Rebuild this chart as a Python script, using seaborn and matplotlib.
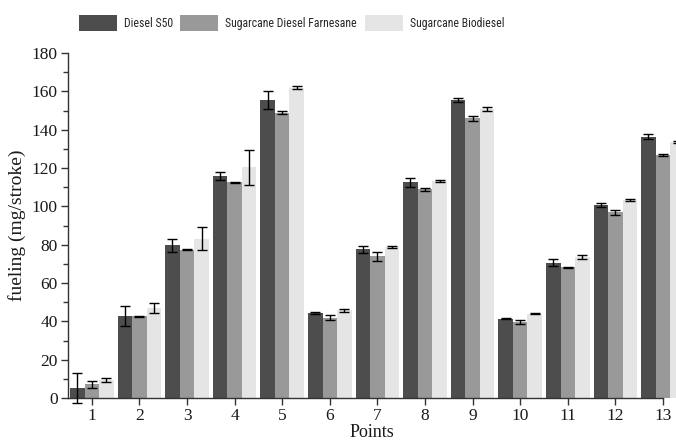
import matplotlib
matplotlib.use("Agg")
import matplotlib.pyplot as plt
from matplotlib import font_manager
from matplotlib.font_manager import FontProperties
from matplotlib.textpath import TextPath
from matplotlib.patches import Patch
from matplotlib.ticker import MultipleLocator
import numpy as np
import pandas as pd
import seaborn as sns

# Operating points and fuel series
points = [str(i) for i in range(1, 14)]
fuels = ["Diesel S50", "Sugarcane Diesel Farnesane", "Sugarcane Biodiesel"]

diesel = [5.2, 42.8, 79.7, 115.8, 155.5, 44.3, 77.5, 112.5, 155.4, 41.4, 70.6, 100.8, 136.3]
diesel_err = [7.6, 5.0, 3.3, 2.0, 4.9, 0.4, 1.9, 2.3, 1.1, 0.3, 1.8, 1.0, 1.3]
farnesane = [7.2, 42.6, 77.4, 112.5, 148.9, 42.0, 73.9, 108.9, 145.9, 39.6, 68.2, 96.9, 126.8]
farnesane_err = [1.8, 0.3, 0.3, 0.3, 0.7, 1.3, 2.3, 0.7, 1.4, 1.0, 0.3, 1.2, 0.3]
biodiesel = [9.4, 47.0, 83.2, 120.3, 162.0, 45.8, 78.8, 113.2, 150.6, 44.0, 73.4, 103.3, 133.6]
biodiesel_err = [1.2, 2.8, 6.2, 9.2, 0.6, 0.85, 0.7, 0.5, 1.0, 0.2, 1.0, 0.7, 0.3]

colors = ["#4d4d4d", "#999999", "#e5e5e5"]

values = [diesel, farnesane, biodiesel]
errors = [diesel_err, farnesane_err, biodiesel_err]

df = pd.DataFrame({
    "Points": points * 3,
    "Fuel": [f for f in fuels for _ in points],
    "fueling": np.concatenate(values),
})

sns.set_theme(style="ticks")
serif = ["Liberation Serif", "DejaVu Serif"]
plt.rcParams["font.family"] = serif

DPI = 100


def legend_font(sample="Sugarcane Diesel Farnesane", width_px=130.0, max_cap_px=10.5):
    """Narrowest installed regular sans face, sized so the sample spans width_px."""
    bases = ("Liberation Sans", "Noto Sans", "Open Sans", "Roboto",
             "DejaVu Sans", "Lato", "Inter")
    cands = set()
    for f in font_manager.fontManager.ttflist:
        if f.style != "normal" or f.weight not in (400, "normal", "regular"):
            continue
        for b in bases:
            if f.name.startswith(b):
                rest = f.name[len(b):].strip()
                if rest == "" or any(k in rest for k in ("Condensed", "Narrow", "Cond")):
                    cands.add(f.fname)
    best = None
    for fname in sorted(cands):
        fp = FontProperties(fname=fname, size=10)
        try:
            w = TextPath((0, 0), sample, size=10, prop=fp).get_extents().width
            h = TextPath((0, 0), "D", size=10, prop=fp).get_extents().height
        except Exception:
            continue
        if h <= 0 or w <= 0:
            continue
        ratio = w / h
        if best is None or ratio < best[0]:
            best = (ratio, fname, w, h)
    if best is None:
        return FontProperties(family="Liberation Sans", size=8.0)
    _, fname, w, h = best
    size = width_px / (w / 10 * DPI / 72)
    size = min(size, max_cap_px / (h / 10 * DPI / 72))
    return FontProperties(fname=fname, size=size)


legend_prop = legend_font()

fig = plt.figure(figsize=(6.76, 4.41), dpi=DPI)
ax = fig.add_axes([68 / 676, 43 / 441, 1 - 68 / 676, 345 / 441])

sns.barplot(data=df, x="Points", y="fueling", hue="Fuel", order=points,
            hue_order=fuels, palette=colors, errorbar=None, width=0.92,
            linewidth=0, saturation=1, legend=False, ax=ax)

# Standard-deviation whiskers on each bar
for container, err in zip(ax.containers, errors):
    xs = [p.get_x() + p.get_width() / 2 for p in container.patches]
    hs = [p.get_height() for p in container.patches]
    ax.errorbar(xs, hs, yerr=err, fmt="none", ecolor="black",
                elinewidth=1.0, capsize=3.3, capthick=1.0, clip_on=False, zorder=5)

ax.set_ylim(0, 180)
ax.set_xlim(-0.5, 12 + 13 / 47.6)
ax.yaxis.set_major_locator(MultipleLocator(20))
ax.yaxis.set_minor_locator(MultipleLocator(10))

sns.despine(ax=ax)
ax.spines["bottom"].set_bounds(-0.5, 12)
for s in ("left", "bottom"):
    ax.spines[s].set_color("#333333")
    ax.spines[s].set_linewidth(1.0)

ax.tick_params(axis="both", which="major", length=5, width=1.0, color="#333333",
               labelsize=12.5, labelcolor="#1a1a1a", pad=2.5)
ax.tick_params(axis="y", which="minor", length=3.5, width=1.0, color="#333333")
for lab in ax.get_xticklabels() + ax.get_yticklabels():
    lab.set_family(serif)

ax.set_xlabel("Points", fontsize=13, color="#1a1a1a", labelpad=-0.5)
ax.set_ylabel("fueling (mg/stroke)", fontsize=14, color="#1a1a1a", labelpad=4)
ax.set_facecolor("white")

# Legend row: one entry per fuel, laid out along the top edge
fs_px = legend_prop.get_size_in_points() * DPI / 72
entry_left = [79, 180, 365]
for c, f, x0 in zip(colors, fuels, entry_left):
    fig.legend(handles=[Patch(facecolor=c, edgecolor="none", label=f)],
               loc="center left", bbox_to_anchor=(x0 / 676, 1 - 23 / 441),
               frameon=False, borderpad=0, borderaxespad=0,
               handlelength=38 / fs_px, handleheight=20 / fs_px,
               handletextpad=7 / fs_px, prop=legend_prop)

fig.savefig("out.png", dpi=DPI, facecolor="white")
